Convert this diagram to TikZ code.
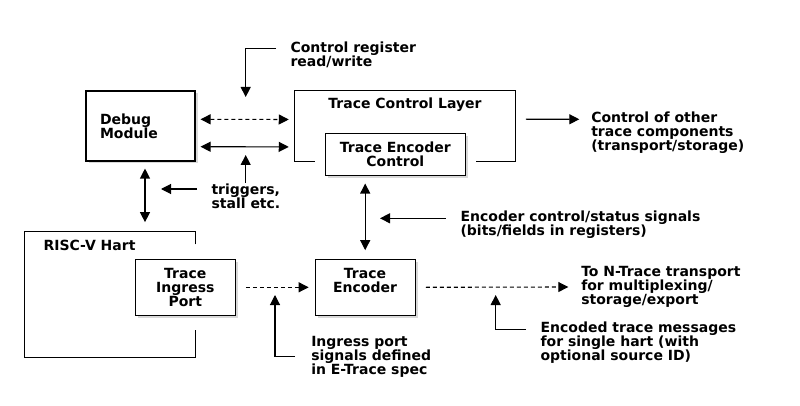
\documentclass[tikz,border=0pt]{standalone}
\usepackage{fontspec}
\setmainfont{DejaVu Sans}
\usetikzlibrary{calc}
\usetikzlibrary{arrows.meta}
\usetikzlibrary{shadows}

\begin{document}
\begin{tikzpicture}[x=1pt,y=-1pt,inner sep=0pt,line width=1.1pt,
  font=\fontsize{14}{14}\selectfont\bfseries,
  >={Triangle[length=10pt,width=10pt]},
  box/.style={draw,fill=white,drop shadow={shadow xshift=2.5pt,shadow yshift=-2.5pt,opacity=0.3}},
  note/.style={anchor=west,align=left},
  dsh/.style={dash pattern=on 4pt off 3pt}]
\useasboundingbox (0,0) rectangle (800,406);

% boxes
\node[box,minimum width=109,minimum height=70,align=left,text width=81,inner xsep=14] (dbg) at (140.5,126) {Debug\\Module};
\node[minimum width=220,minimum height=70] (tcl) at (405.3,126.2) {};
\draw ($(tcl.south west)+(20,0)$) -- (tcl.south west) -- (tcl.north west) -- (tcl.north east) -- (tcl.south east) -- ($(tcl.south east)+(-40,0)$);
\node (tcllbl) at (405,105) {Trace Control Layer};
\node[box,minimum width=140,minimum height=42,align=center] (tec) at (395.3,154.3) {Trace Encoder\\Control};

\node[minimum width=170,minimum height=125] (hart) at (110.3,294.2) {};
\draw ($(hart.north east)+(0,13.3)$) -- (hart.north east) -- (hart.north west) -- (hart.south west) -- (hart.south east) -- ($(hart.south east)+(0,-27.4)$);
\node[anchor=west] (hartlbl) at (43,245) {RISC-V Hart};
\node[box,minimum width=100,minimum height=56,align=center] (ingr) at (185.3,287.3) {Trace\\Ingress\\Port};
\node[box,minimum width=100,minimum height=56] (enc) at (365.2,287.3) {};
\node[align=center] (enclbl) at (365,280) {Trace\\Encoder};

% notes
\node[note] (creg) at (290,55) {Control register\\read/write};
\node[note] (trig) at (211,196) {triggers,\\stall etc.};
\node[note] (ctrl) at (590.7,133) {Control of other\\trace components\\(transport/storage)};
\node[note] (encsig) at (460,224.5) {Encoder control/status signals\\(bits/fields in registers)};
\node[note] (ntr) at (580.7,287) {To N-Trace transport\\for multiplexing/\\storage/export};
\node[note] (ingrnote) at (310.7,356.7) {Ingress port\\signals defined\\in E-Trace spec};
\node[note] (encmsg) at (540,343) {Encoded trace messages\\for single hart (with\\optional source ID)};

\coordinate (cregtip) at (245.7,97);
\coordinate (trigup) at (245.7,155);
\coordinate (trigleft) at (161,189);
\coordinate (encsigtip) at (380,218.3);
\coordinate (ingrtip) at (275,295);
\coordinate (encmsgtip) at (495.7,295);
\coordinate (dh) at ($(dbg.south)+(4.5,0)$);

% connectors
\draw[<->,dsh,shorten <=5pt,shorten >=6pt] ([yshift=6.7pt]dbg.east) -- ([yshift=6.7pt]tcl.west);
\draw[<->,shorten <=5pt,shorten >=6pt] ([yshift=-20.7pt]dbg.east) -- ([yshift=-20.7pt]tcl.west);
\draw[<->,shorten <=7pt,shorten >=9pt] (dh) -- (dh |- hart.north);
\draw[<->,shorten <=7.7pt,shorten >=8.6pt] (enc.north |- tec.south) -- (enc.north);
\draw[->,dsh,shorten <=10pt,shorten >=6pt] (ingr.east) -- (enc.west);
\draw[->,dsh] ($(enc.east)+(10,0)$) -- ($(ntr.west)+(-12.4,0)$);
\draw[->] ($(tcl.east)+(10,-7)$) -- ($(ctrl.west)+(-11.4,-13.7)$);

\draw[->] ($(creg.west)+(-14,-6.5)$) -| (cregtip);
\draw[->] ($(trig.west)+(34.7,-13)$) -- (trigup);
\draw[->] ($(trig.west)+(-14,-7)$) -- (trigleft);
\draw[->] ($(encsig.west)+(-14.3,-6.2)$) -- (encsigtip);
\draw[->] ($(ingrnote.west)+(-15.7,0)$) -| (ingrtip);
\draw[->] ($(encmsg.west)+(-14,-13.7)$) -| (encmsgtip);
\end{tikzpicture}
\end{document}
